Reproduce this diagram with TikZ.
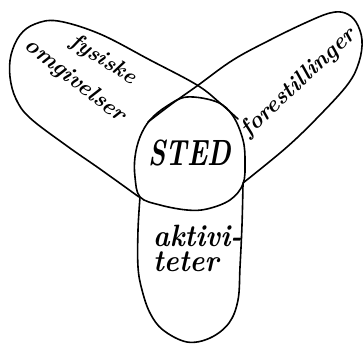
\documentclass[tikz,border=0pt]{standalone}
\usepackage{fontspec}
\begin{document}
\begin{tikzpicture}[x=1pt,y=-1pt,
  outline/.style={line width=1.6pt, line join=round, line cap=round},
  hand/.style={inner sep=0pt, text=black}]
\useasboundingbox (0,0) rectangle (364,344);
% central circle
\draw[outline] plot[smooth cycle, tension=0.6] coordinates {(187,97) (217,102) (233,116) (243,140) (245,162) (243,184) (230,200) (207,209) (187,210) (160,205) (140,197) (135,177) (135,157) (140,137) (150,120) (167,106)};
% left lobe
\draw[outline] plot[smooth, tension=0.6] coordinates {(238,119) (220,103) (197,85) (150,60) (100,34) (58,21) (35,24) (20,35) (11,55) (10,77) (16,99) (30,118) (67,146) (100,169) (139,197)};
% right lobe
\draw[outline] plot[smooth, tension=0.6] coordinates {(148,122) (173,103) (197,86) (233,60) (270,40) (305,23) (330,13) (345,13) (356,22) (362,40) (359,62) (348,84) (320,115) (287,147) (243,183)};
% lower lobe
\draw[outline] plot[smooth, tension=0.6] coordinates {(140,197) (138,230) (138,267) (142,290) (150,313) (163,330) (187,342) (210,338) (229,323) (238,300) (240,267) (242,225) (243,184)};
% texts
\node[hand, font=\bfseries\itshape\fontsize{27}{29}\selectfont] (sted) at (190,153) {\scalebox{1}[1.35]{STED}};
\node[hand, anchor=base west, font=\bfseries\itshape\fontsize{28}{30}\selectfont] (akt) at (153,247) {\scalebox{1}[1.1]{aktivi-}};
\node[hand, anchor=base west, font=\bfseries\itshape\fontsize{28}{30}\selectfont] (tet) at (153,272) {\scalebox{1}[1.1]{teter}};
\node[hand, rotate=-33, font=\bfseries\itshape\fontsize{22}{24}\selectfont] (fys) at (103,60) {fysiske};
\node[hand, rotate=-38, font=\bfseries\itshape\fontsize{23}{25}\selectfont] (omg) at (75,81) {omgivelser};
\node[hand, rotate=43, font=\bfseries\itshape\fontsize{23}{25}\selectfont] (for) at (299,83) {forestillinger};
\end{tikzpicture}
\end{document}
